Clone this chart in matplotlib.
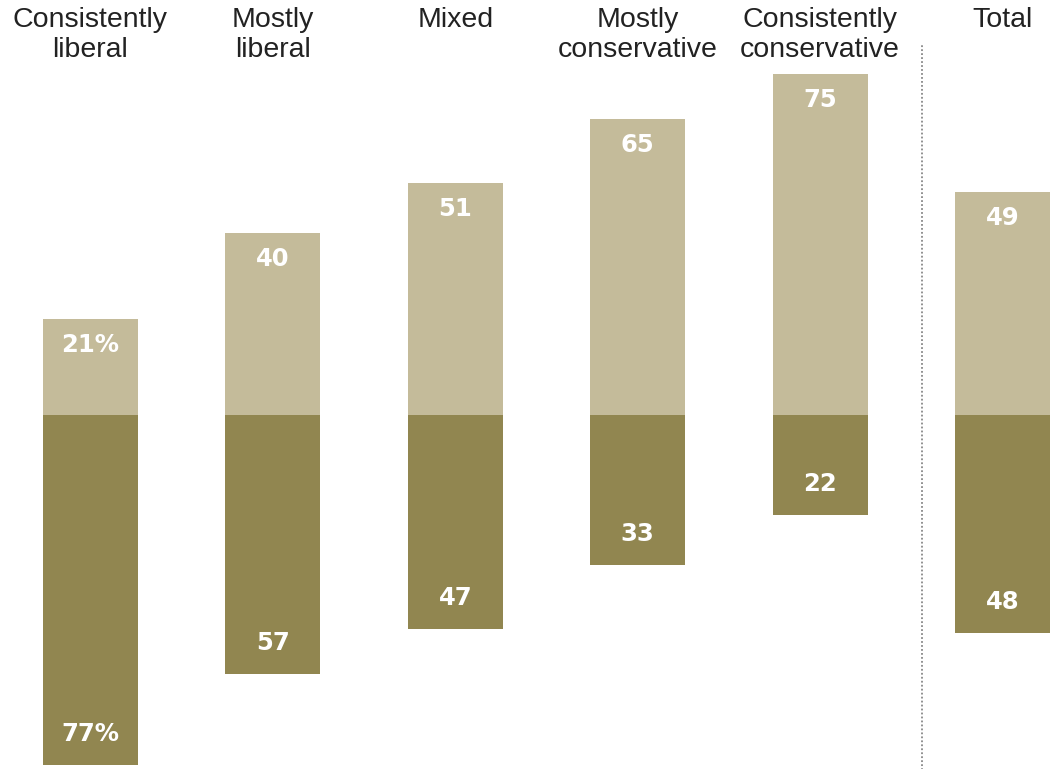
import matplotlib
matplotlib.use('Agg')
import matplotlib.pyplot as plt

categories = ['Consistently\nliberal', 'Mostly\nliberal', 'Mixed',
              'Mostly\nconservative', 'Consistently\nconservative', 'Total']
upper = [21, 40, 51, 65, 75, 49]
lower = [77, 57, 47, 33, 22, 48]
upper_labels = ['21%', '40', '51', '65', '75', '49']
lower_labels = ['77%', '57', '47', '33', '22', '48']

light = '#c4bb9a'
dark = '#918650'

fig = plt.figure(figsize=(10.51, 7.69), dpi=100)
ax = fig.add_axes([0, 0, 1, 1])

x = list(range(len(categories)))
ax.bar(x, upper, width=0.52, color=light)
ax.bar(x, [-v for v in lower], width=0.52, color=dark)

for i in x:
    ax.annotate(upper_labels[i], (i, upper[i]), xytext=(0, -26), textcoords='offset pixels',
                ha='center', va='center', color='white', fontsize=17.5, fontweight='bold',
                family='DejaVu Sans')
    ax.annotate(lower_labels[i], (i, -lower[i]), xytext=(0, 31), textcoords='offset pixels',
                ha='center', va='center', color='white', fontsize=17.5, fontweight='bold',
                family='DejaVu Sans')
    ax.text(i, 89.6, categories[i], ha='center', va='top', fontsize=20.5,
            family='Liberation Sans', color='#222222', linespacing=1.18)

# separator before Total
ax.plot([4.56, 4.56], [-80, 81.5], color='#888888', lw=1.3, ls=(0, (1, 1.2)))

ax.set_xlim(-0.496, 5.266)
ax.set_ylim(-77.8, 91.2)
ax.axis('off')

plt.savefig('out.png', dpi=100)
plt.close()
